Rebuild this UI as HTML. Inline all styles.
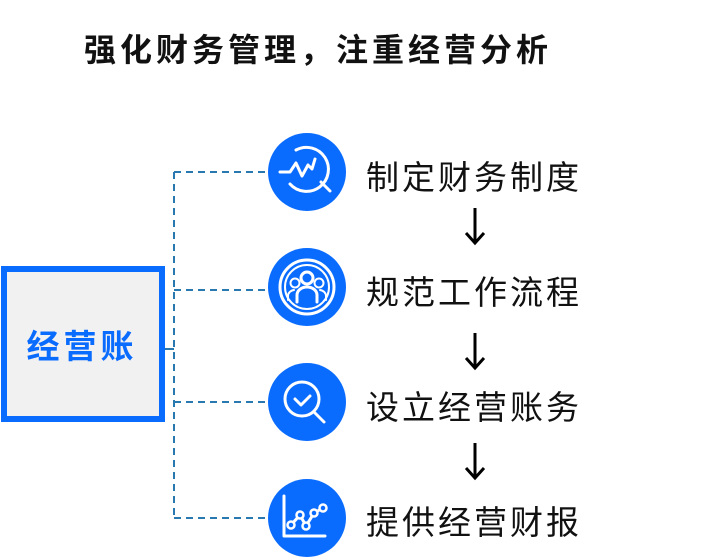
<!DOCTYPE html>
<html><head><meta charset="utf-8"><style>
body{margin:0;width:722px;height:560px;background:#fff;position:relative;overflow:hidden;font-family:"Liberation Sans","Noto Sans CJK SC",sans-serif}
.t{position:absolute;white-space:nowrap}
.l{left:366px;font-size:33px;color:#111;letter-spacing:3px}
</style></head><body>
<div class="t" style="left:84px;top:25px;font-size:32px;font-weight:bold;color:#111;letter-spacing:4px">强化财务管理，注重经营分析</div>
<div style="position:absolute;left:1px;top:266px;width:152px;height:144px;border:6px solid #0a6cff;background:#f1f1f1"></div>
<div class="t" style="left:0;top:320px;width:164px;text-align:center;font-size:33px;font-weight:bold;color:#0a6cff;letter-spacing:4px">经营账</div>
<svg width="722" height="560" style="position:absolute;left:0;top:0">
<g stroke="#2a78b0" stroke-width="2" stroke-dasharray="7,5" fill="none">
<path d="M174 172V518"/><path d="M174 172H268"/><path d="M174 290H268"/><path d="M174 402H268"/><path d="M174 518H268"/>
</g>
<path d="M165 349H174" stroke="#2a78b0" stroke-width="2"/>
<g fill="#0a6cff"><circle cx="307" cy="172" r="39"/><circle cx="307" cy="287" r="39"/><circle cx="307" cy="402" r="39"/><circle cx="307" cy="518" r="39"/></g>
<g stroke="#fff" stroke-width="3" fill="none" stroke-linecap="round" stroke-linejoin="round">
<path d="M280 172h10l6-9 6 13 6-11 4 4 3-10"/><path d="M296 150a22 22 0 1 1 -6 34"/><path d="M321 182l9 9"/>
<circle cx="307" cy="287" r="27"/><circle cx="307" cy="287" r="22" stroke-width="2"/><circle cx="307" cy="278" r="6"/><path d="M297 302v-7a10 8 0 0 1 20 0v7"/><circle cx="295" cy="283" r="4.5" stroke-width="2"/><circle cx="319" cy="283" r="4.5" stroke-width="2"/><path d="M288 300v-4a7 6 0 0 1 6-6M326 300v-4a7 6 0 0 0 -6-6" stroke-width="2"/>
<circle cx="302" cy="399" r="17"/><path d="M295 399l6 6 9-9"/><path d="M314 412l10 10"/>
<path d="M284 496v40h41"/><path d="M291 525l9-10 6 11 8-13 9-5"/>
</g>
<g fill="#0a6cff" stroke="#fff" stroke-width="2.5"><circle cx="291" cy="525" r="3.5"/><circle cx="300" cy="515" r="3.5"/><circle cx="306" cy="526" r="3.5"/><circle cx="314" cy="513" r="3.5"/><circle cx="323" cy="508" r="3.5"/></g>
<g stroke="#000" stroke-width="3" fill="none">
<path d="M475 208v34M466 233l9 10 9-10"/><path d="M475 333v34M466 358l9 10 9-10"/><path d="M475 443v34M466 468l9 10 9-10"/>
</g>
</svg>
<div class="t l" style="top:151px">制定财务制度</div>
<div class="t l" style="top:266px">规范工作流程</div>
<div class="t l" style="top:381px">设立经营账务</div>
<div class="t l" style="top:496px">提供经营财报</div>
</body></html>
